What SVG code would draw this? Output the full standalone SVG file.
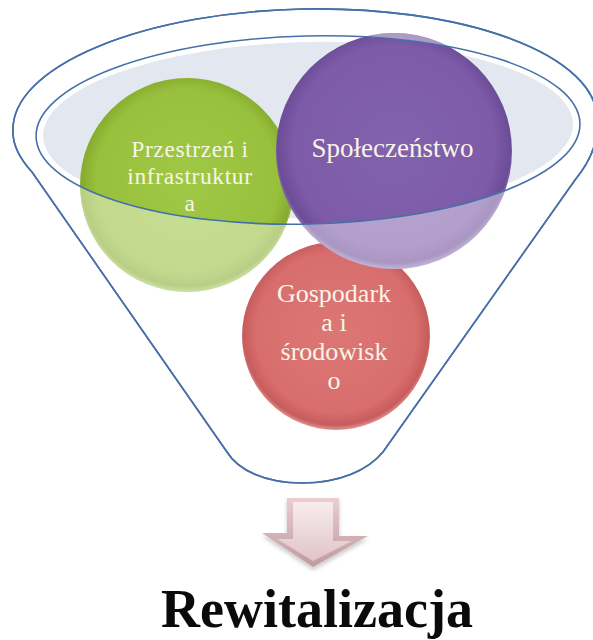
<svg xmlns="http://www.w3.org/2000/svg" width="593" height="640" viewBox="0 0 593 640">
  <style>
    .funnel { fill: #ffffff; stroke: #4670a8; stroke-width: 1.6; }
    .rim { fill: none; stroke: #4670a8; stroke-width: 1.6; }
    .lbl { font-family: "Liberation Serif", "Times New Roman", serif; font-size: 26px; fill: #f8f5e6; text-anchor: middle; }
    .lbl-g { font-size: 23.5px; letter-spacing: 0.6px; }
    .title { font-family: "Liberation Serif", "Times New Roman", serif; font-size: 54px; font-weight: bold; fill: #0a0a0a; text-anchor: middle; }
    .wash { fill: #ffffff; fill-opacity: 0.42; }
  </style>
  <defs>
    <radialGradient id="gGreen" cx="50%" cy="48%" r="52%">
      <stop offset="0" stop-color="#9fc846"/>
      <stop offset="0.82" stop-color="#98c03c"/>
      <stop offset="0.95" stop-color="#86ab2f"/>
      <stop offset="1" stop-color="#a9cb62"/>
    </radialGradient>
    <radialGradient id="gPurple" cx="50%" cy="48%" r="52%">
      <stop offset="0" stop-color="#8261ad"/>
      <stop offset="0.82" stop-color="#7d5ba8"/>
      <stop offset="0.95" stop-color="#6c4b97"/>
      <stop offset="1" stop-color="#9880bb"/>
    </radialGradient>
    <radialGradient id="gRed" cx="50%" cy="48%" r="52%">
      <stop offset="0" stop-color="#dc7776"/>
      <stop offset="0.82" stop-color="#d76e6d"/>
      <stop offset="0.95" stop-color="#c65d5c"/>
      <stop offset="1" stop-color="#e39594"/>
    </radialGradient>
    <linearGradient id="gArrowOut" x1="0" y1="0" x2="0" y2="1">
      <stop offset="0" stop-color="#e8cdd1"/>
      <stop offset="1" stop-color="#c09aa0"/>
    </linearGradient>
    <linearGradient id="gArrowIn" x1="0" y1="0" x2="0" y2="1">
      <stop offset="0" stop-color="#f8ecee"/>
      <stop offset="1" stop-color="#e0c4c8"/>
    </linearGradient>
    <clipPath id="outside">
      <path clip-rule="evenodd" transform="rotate(-1.4 308 130)" d="M-20 -20H620V660H-20Z M36 130 A272 94 0 1 0 580 130 A272 94 0 1 0 36 130Z"/>
    </clipPath>
    <filter id="shadow" x="-20%" y="-20%" width="140%" height="150%">
      <feGaussianBlur in="SourceAlpha" stdDeviation="2"/>
      <feOffset dx="0" dy="3" result="b"/>
      <feFlood flood-color="#000000" flood-opacity="0.22"/>
      <feComposite in2="b" operator="in"/>
      <feMerge><feMergeNode/><feMergeNode in="SourceGraphic"/></feMerge>
    </filter>
  </defs>

  <g id="funnel">
    <path class="funnel" d="M227 452 L32 172 Q12 150 13 130 A292 115 -1.2 0 1 597 118 Q600 150 575 180 L383 452 C368 470 340 483 302 483 C265 483 238 470 227 452 Z"/>
    <ellipse cx="308" cy="130" rx="265" ry="88" fill="#e3e7ef" transform="rotate(-1.4 308 130)"/>
  </g>

  <g id="node-gospodarka">
    <circle cx="336" cy="336" r="94" fill="url(#gRed)"/>
    <text class="lbl"><tspan x="334" y="302">Gospodark</tspan><tspan x="334" y="331">a i</tspan><tspan x="334" y="360">środowisk</tspan><tspan x="334" y="389">o</tspan></text>
  </g>

  <g id="node-przestrzen">
    <circle cx="187" cy="185" r="107" fill="url(#gGreen)"/>
    <circle cx="187" cy="185" r="107" class="wash" clip-path="url(#outside)"/>
    <text class="lbl lbl-g"><tspan x="190" y="157">Przestrzeń i</tspan><tspan x="190" y="184">infrastruktur</tspan><tspan x="190" y="211">a</tspan></text>
  </g>

  <g id="node-spoleczenstwo">
    <circle cx="394" cy="151" r="118" fill="url(#gPurple)"/>
    <circle cx="394" cy="151" r="118" class="wash" clip-path="url(#outside)"/>
    <text class="lbl" x="392.5" y="157" style="font-size:27px">Społeczeństwo</text>
  </g>

  <g id="connectors">
    <ellipse class="rim" cx="308" cy="130" rx="272" ry="94" transform="rotate(-1.4 308 130)"/>
    <path class="rim" d="M227 452 L32 172 Q12 150 13 130 A292 115 -1.2 0 1 597 118 Q600 150 575 180 L383 452 C368 470 340 483 302 483 C265 483 238 470 227 452 Z"/>
    <g id="arrow" filter="url(#shadow)">
      <path d="M287 498 H339 V536 H368 L313 567 L262 533 H287 Z" fill="url(#gArrowOut)"/>
      <path d="M293 502 H333 V541 H352 L313 561 L277 539 H293 Z" fill="url(#gArrowIn)"/>
    </g>
  </g>

  <g id="node-title">
    <text class="title" x="317" y="627">Rewitalizacja</text>
  </g>
</svg>
